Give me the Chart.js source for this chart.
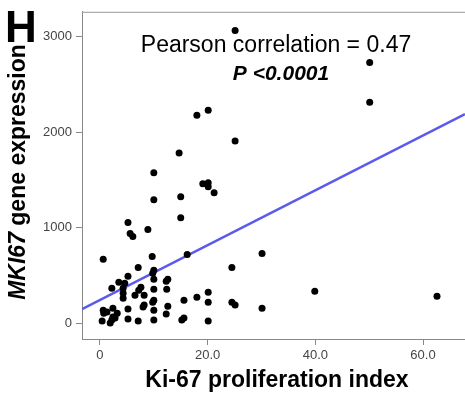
<!DOCTYPE html>
<html>
<head>
<meta charset="utf-8">
<script src="https://cdn.jsdelivr.net/npm/chart.js@4.4.0/dist/chart.umd.min.js"></script>
<style>
  html, body { margin: 0; padding: 0; background: #fff; }
  #wrap { width: 465px; height: 394px; position: relative; }
</style>
</head>
<body>
<div id="wrap"><canvas id="kiChart" width="465" height="394"></canvas></div>
<script>
// Ki-67 index vs MKI67 expression
const kiIndex = [
  25.1, 18.0, 20.1, 25.1, 50.1, 50.1, 14.7, 10.0, 19.1, 20.1,
  20.1, 21.2, 10.0, 15.0, 15.0, 5.2, 5.6, 6.1, 8.9, 0.6,
  9.7, 16.2, 30.1, 7.1, 24.5, 10.0, 5.2, 10.0, 10.0, 12.3,
  12.6, 12.4, 3.5, 4.6, 2.2, 4.3, 7.6, 7.2, 4.3, 4.3,
  6.5, 8.2, 20.1, 18.0, 10.0, 9.8, 15.6, 20.1, 8.2, 8.0,
  12.6, 0.6, 1.3, 0.7, 2.4, 5.2, 10.0, 3.2, 12.3, 0.4,
  2.2, 2.4, 2.8, 1.9, 5.2, 7.1, 10.0, 15.2, 15.6, 20.1,
  24.5, 25.1, 30.1, 39.9, 62.6, 9.8
];
const mki67Expr = [
  3063, 2177, 2229, 1906, 2729, 2313, 1781, 1573, 1458, 1469,
  1427, 1365, 1292, 1323, 1104, 1052, 938, 906, 979, 667,
  698, 719, 729, 583, 583, 552, 490, 458, 354, 438,
  458, 354, 427, 417, 365, 365, 375, 344, 313, 260,
  292, 292, 323, 271, 240, 219, 240, 219, 188, 167,
  177, 135, 115, 104, 156, 146, 135, 104, 94, 21,
  31, 63, 52, 0, 42, 21, 31, 31, 52, 21,
  219, 188, 156, 333, 281, 521
];

// fitted line, read at the two edges of the plot
const fitX = [-3.34, 67.8];
const fitY = [146, 2188];

const xTicks = [0, 20, 40, 60];
const yTicks = [0, 1000, 2000, 3000];

const FONT = '"Liberation Sans", Arial, Helvetica, sans-serif';

const points = kiIndex.map((x, i) => ({ x: x, y: mki67Expr[i] }));
const fitLine = fitX.map((x, i) => ({ x: x, y: fitY[i] }));

// titles, annotation and the top frame line
const decorations = {
  id: 'decorations',
  afterDraw(chart) {
    const ctx = chart.ctx;
    const area = chart.chartArea;
    ctx.save();

    ctx.strokeStyle = '#999';
    ctx.lineWidth = 1;
    ctx.beginPath();
    ctx.moveTo(area.left, area.top + 0.5);
    ctx.lineTo(area.right, area.top + 0.5);
    ctx.stroke();

    ctx.fillStyle = '#000';
    ctx.textBaseline = 'alphabetic';

    // panel letter
    ctx.textAlign = 'left';
    ctx.font = 'bold 44px ' + FONT;
    ctx.fillText('H', 5, 42);

    // annotation
    ctx.textAlign = 'center';
    ctx.font = '23px ' + FONT;
    ctx.fillText('Pearson correlation = 0.47', 276, 52);
    ctx.font = 'italic bold 21px ' + FONT;
    ctx.fillText('P <0.0001', 281, 80);

    // x title
    ctx.font = 'bold 23px ' + FONT;
    ctx.fillText('Ki-67 proliferation index', 277, 387);

    // y title with italic gene name
    ctx.translate(25, 172);
    ctx.rotate(-Math.PI / 2);
    ctx.textAlign = 'left';
    const partA = 'MKI67';
    const partB = ' gene expression';
    ctx.font = 'italic bold 23px ' + FONT;
    const wA = ctx.measureText(partA).width;
    ctx.font = 'bold 23px ' + FONT;
    const wB = ctx.measureText(partB).width;
    const start = -(wA + wB) / 2;
    ctx.font = 'italic bold 23px ' + FONT;
    ctx.fillText(partA, start, 0);
    ctx.font = 'bold 23px ' + FONT;
    ctx.fillText(partB, start + wA, 0);

    ctx.restore();
  }
};

new Chart(document.getElementById('kiChart'), {
  type: 'scatter',
  data: {
    datasets: [
      {
        label: 'samples',
        data: points,
        backgroundColor: '#000',
        borderWidth: 0,
        pointRadius: 3.5,
        order: 1
      },
      {
        type: 'line',
        label: 'fit',
        data: fitLine,
        borderColor: '#5a5aec',
        borderWidth: 2.5,
        pointRadius: 0,
        fill: false,
        order: 2
      }
    ]
  },
  options: {
    responsive: false,
    animation: false,
    devicePixelRatio: 1,
    layout: { autoPadding: false, padding: { top: 10, right: 0, left: 0, bottom: 0 } },
    plugins: {
      legend: { display: false },
      tooltip: { enabled: false }
    },
    scales: {
      x: {
        type: 'linear',
        min: -3.34,
        max: 67.8,
        afterFit: s => { s.height = 55; },
        afterBuildTicks: s => { s.ticks = xTicks.map(v => ({ value: v })); },
        grid: { drawOnChartArea: false, drawTicks: true, tickLength: 6, color: '#888' },
        border: { display: true, color: '#888', width: 1 },
        ticks: {
          color: '#444',
          padding: 3,
          maxRotation: 0,
          font: { family: FONT, size: 13 },
          callback: v => v === 0 ? '0' : v.toFixed(1)
        }
      },
      y: {
        type: 'linear',
        min: -167,
        max: 3260,
        afterFit: s => { s.width = 82; },
        afterBuildTicks: s => { s.ticks = yTicks.map(v => ({ value: v })); },
        grid: { drawOnChartArea: false, drawTicks: true, tickLength: 6, color: '#888' },
        border: { display: true, color: '#888', width: 1 },
        ticks: {
          color: '#444',
          padding: 4,
          font: { family: FONT, size: 13 },
          callback: v => String(v)
        }
      }
    }
  },
  plugins: [decorations]
});
</script>
</body>
</html>
